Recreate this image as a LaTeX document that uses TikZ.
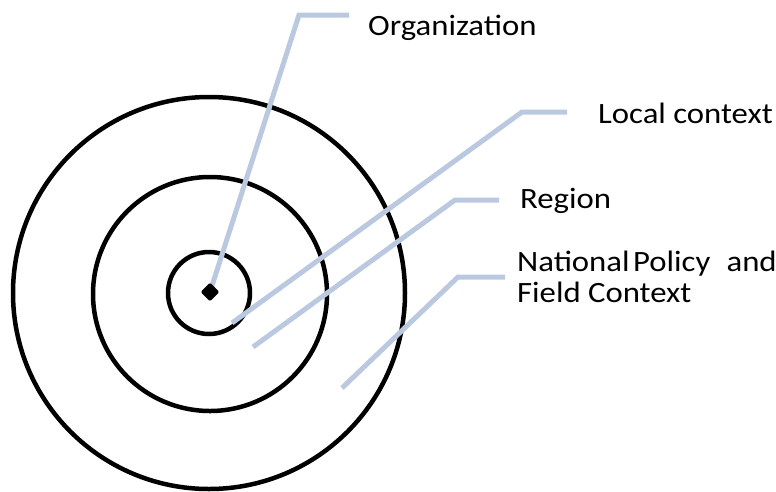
\documentclass[tikz,border=0pt]{standalone}
\usepackage{fontspec}
\setmainfont{Carlito}[FakeStretch=1.11]
\usetikzlibrary{shapes.geometric}
\begin{document}
\begin{tikzpicture}[x=1pt,y=-1pt,
  ring/.style={draw=black,line width=4.5pt},
  leader/.style={draw=leadblue,line width=5pt,line join=miter},
  label/.style={anchor=base west,inner sep=0pt,font=\fontsize{29.5}{31}\selectfont,text=black}]
  \definecolor{leadblue}{RGB}{187,201,224}
  \useasboundingbox (0,0) rectangle (776,491);

  % concentric rings
  \draw[ring] (209,293) circle[radius=196];
  \draw[ring] (210,294) circle[radius=117];
  \draw[ring] (209,293) circle[radius=41];

  % centre point and leader ends
  \coordinate (core) at (210,292);
  \coordinate (localin) at (232,323);
  \coordinate (regionin) at (253,347);
  \coordinate (nationin) at (342,388);

  % labels
  \node[label] (org) at (368,35) {Organization};
  \node[label] (local) at (598,123) {Local context};
  \node[label] (region) at (520,208) {Region};
  \node[label,align=left] (nation) at (517,302)
    {National\hspace{0.12em}Policy\hspace{0.55em}and\\Field Context};

  % leaders from each zone to its label
  \draw[leader] (core) -- (299,15) -- (349,15);
  \draw[leader] (localin) -- (522,112) -- (567,112);
  \draw[leader] (regionin) -- (455,200) -- (499,200);
  \draw[leader] (nationin) -- (458,277) -- (505,277);

  \node[diamond,fill=black,minimum width=19pt,minimum height=19pt,inner sep=0pt,
        rounded corners=1.5pt] (dot) at (core) {};
\end{tikzpicture}
\end{document}
